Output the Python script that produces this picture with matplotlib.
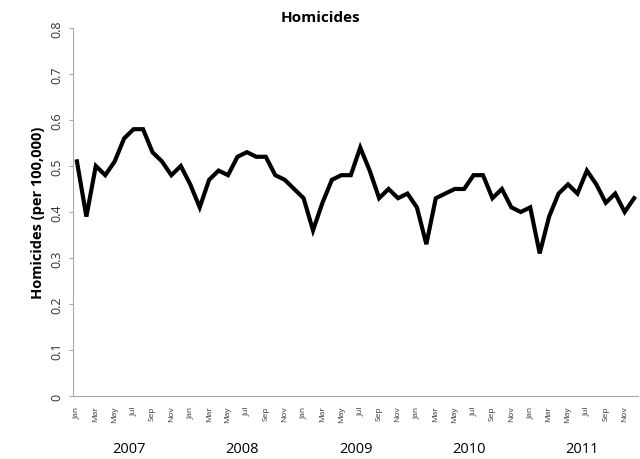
import numpy as np
import matplotlib.pyplot as plt

plt.rcParams['font.family'] = ['Open Sans', 'DejaVu Sans']

years = ['2007', '2008', '2009', '2010', '2011']
months = ['Jan', 'Feb', 'Mar', 'Apr', 'May', 'Jun',
          'Jul', 'Aug', 'Sep', 'Oct', 'Nov', 'Dec']

# homicides per 100,000, monthly
rate_2007 = [0.51, 0.39, 0.50, 0.48, 0.51, 0.56, 0.58, 0.58, 0.53, 0.51, 0.48, 0.50]
rate_2008 = [0.46, 0.41, 0.47, 0.49, 0.48, 0.52, 0.53, 0.52, 0.52, 0.48, 0.47, 0.45]
rate_2009 = [0.43, 0.36, 0.42, 0.47, 0.48, 0.48, 0.54, 0.49, 0.43, 0.45, 0.43, 0.44]
rate_2010 = [0.41, 0.33, 0.43, 0.44, 0.45, 0.45, 0.48, 0.48, 0.43, 0.45, 0.41, 0.40]
rate_2011 = [0.41, 0.31, 0.39, 0.44, 0.46, 0.44, 0.49, 0.46, 0.42, 0.44, 0.40, 0.43]

valores = rate_2007 + rate_2008 + rate_2009 + rate_2010 + rate_2011
x = np.arange(len(valores))

fig = plt.figure(figsize=(6.4, 4.6), dpi=100)
ax = fig.add_axes([0.114, 0.137, 0.883, 0.8])

ax.plot(x, valores, color='black', lw=3, solid_joinstyle='miter')

ax.set_xlim(-0.42, 59.42)
ax.set_ylim(0, 0.8)
ax.set_yticks(np.arange(0, 0.81, 0.1))
ax.set_yticklabels(['0'] + ['%.1f' % v for v in np.arange(0.1, 0.81, 0.1)],
                   rotation=90, va='center', fontsize=9, color='#333333')
ax.tick_params(axis='y', length=3, color='#aaaaaa', pad=4)

# cada dos meses
pos = x[::2]
ax.set_xticks(pos)
ax.set_xticklabels([months[i % 12] for i in pos], rotation=90, fontsize=6, color='#333333')
ax.tick_params(axis='x', length=0, pad=7)

for k, yr in enumerate(years):
    ax.text(5.5 + 12 * k, -0.115, yr, ha='center', va='center', fontsize=10.5,
            transform=ax.transData, clip_on=False)

for s in ['top', 'right']:
    ax.spines[s].set_visible(False)
ax.spines['left'].set_color('#aaaaaa')
ax.spines['bottom'].set_color('#aaaaaa')

ax.set_ylabel('Homicides (per 100,000)', fontsize=10.5, fontweight='bold', labelpad=4)
fig.suptitle('Homicides', fontsize=11, fontweight='bold', y=0.977)

fig.savefig('out.png', dpi=100)
